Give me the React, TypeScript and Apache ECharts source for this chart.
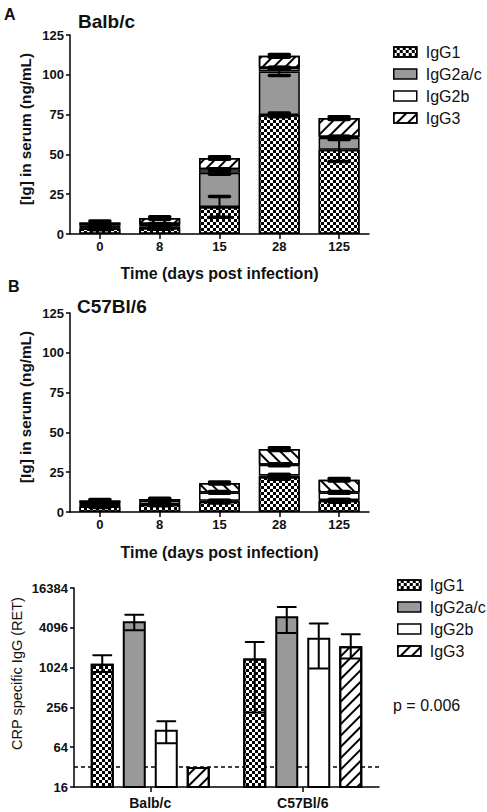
import React, { useEffect, useRef } from 'react';
import * as echarts from 'echarts';

const FONT = '"Liberation Sans", Arial, Helvetica, sans-serif';
const INK = '#111';

// Categories
const days = ['0', '8', '15', '28', '125'];
const isotypes = ['IgG1', 'IgG2a/c', 'IgG2b', 'IgG3'];
const strains = ['Balb/c', 'C57Bl/6'];

// Panel A – Balb/c, stacked means (ng/mL)
const balbIgG1 = [3.5, 3.8, 17.0, 74.8, 52.9];
const balbIgG2a = [0.5, 1.0, 21.5, 27.3, 7.5];
const balbIgG2b = [1.5, 1.5, 2.2, 2.1, 0.5];
const balbIgG3 = [1.8, 3.7, 7.0, 7.7, 11.9];
// Panel A – SEM
const balbErrIgG1 = [0.8, 0.8, 6.5, 1.2, 7.4];
const balbErrIgG2a = [0.5, 0.5, 1.0, 2.5, 1.0];
const balbErrIgG2b = [0.3, 0.3, 0.3, 0.5, 0.3];
const balbErrIgG3 = [0.8, 0.8, 0.8, 0.8, 0.8];

// Panel B – C57Bl/6, stacked means (ng/mL)
const c57IgG1 = [3.5, 4.5, 6.5, 22.0, 7.0];
const c57IgG2a = [0.3, 0.3, 0.5, 1.0, 0.5];
const c57IgG2b = [1.8, 2.2, 5.3, 6.7, 4.8];
const c57IgG3 = [1.7, 1.2, 5.9, 9.8, 8.0];
// Panel B – SEM
const c57ErrIgG1 = [0.6, 0.5, 0.8, 1.5, 0.8];
const c57ErrIgG2a = [0.3, 0.3, 0.4, 0.6, 0.4];
const c57ErrIgG2b = [0.4, 0.4, 0.5, 0.6, 0.5];
const c57ErrIgG3 = [0.6, 0.5, 0.6, 0.8, 0.8];

// Panel C – CRP specific IgG (RET), per strain
const crpIgG1 = [1170, 1400];
const crpIgG1Lo = [880, 214];
const crpIgG1Hi = [1570, 2500];
const crpIgG2a = [5140, 6130];
const crpIgG2aLo = [3750, 3420];
const crpIgG2aHi = [6470, 8480];
const crpIgG2b = [118, 2900];
const crpIgG2bLo = [73.5, 990];
const crpIgG2bHi = [158, 4740];
const crpIgG3 = [32, 2150];
const crpIgG3Lo = [null, 1400];
const crpIgG3Hi = [null, 3270];
const detectionLimit = 32;
const pValueText = 'p = 0.006';

const checker = {
  symbol: 'rect', symbolSize: 1, color: '#000', backgroundColor: '#fff',
  dashArrayX: [[3, 3], [0, 3, 3, 0]], dashArrayY: [3, 0], rotation: 0,
};
const hatchUp = {
  symbol: 'rect', symbolSize: 1, color: '#000', backgroundColor: '#fff',
  dashArrayX: [1, 0], dashArrayY: [2, 5.5], rotation: -Math.PI / 4,
};
const hatchDown = { ...hatchUp, rotation: Math.PI / 4 };

function stackedErrors(layers: number[][], errs: number[][]) {
  const out: number[][] = [];
  const cum = layers[0].map(() => 0);
  layers.forEach((layer, li) => {
    layer.forEach((v, i) => {
      cum[i] += v;
      out.push([i, cum[i] - errs[li][i], cum[i] + errs[li][i]]);
    });
  });
  return out;
}

export default function App() {
  const ref = useRef<HTMLDivElement>(null);
  useEffect(() => {
    if (!ref.current) return;
    const chart = echarts.init(ref.current, null, { renderer: 'svg' });

    const axisLine = { show: true, lineStyle: { color: '#000', width: 1.5 } };
    const tickStyle = { color: '#000', width: 1.5 };
    const labelBold = (size: number, margin: number) => ({
      fontFamily: FONT, fontWeight: 'bold', fontSize: size, color: INK, margin,
    });

    const stackBar = (name: string, data: number[], axis: number, stack: string, style: any) => ({
      name, type: 'bar', stack, xAxisIndex: axis, yAxisIndex: axis, data,
      barWidth: 41,
      itemStyle: { borderColor: '#000', borderWidth: 1.5, ...style },
    });

    const errSeries = (axis: number, data: number[][], capW: number, capLW: number, lw: number, offsets?: number[]) => ({
      type: 'custom', xAxisIndex: axis, yAxisIndex: axis, z: 10, silent: true,
      data,
      encode: { x: 0, y: [1, 2] },
      renderItem: (params: any, api: any) => {
        const ci = api.value(0);
        const lo = api.value(1);
        const hi = api.value(2);
        const si = api.value(3);
        const pLo = api.coord([ci, lo]);
        const pHi = api.coord([ci, hi]);
        const cx = pLo[0] + (offsets ? offsets[si] : 0);
        const hw = capW / 2;
        const st = { stroke: '#000', lineWidth: lw };
        const cs = { stroke: '#000', lineWidth: capLW, lineCap: 'round' };
        return {
          type: 'group',
          children: [
            { type: 'line', shape: { x1: cx, y1: pLo[1], x2: cx, y2: pHi[1] }, style: st },
            { type: 'line', shape: { x1: cx - hw, y1: pHi[1], x2: cx + hw, y2: pHi[1] }, style: cs },
            { type: 'line', shape: { x1: cx - hw, y1: pLo[1], x2: cx + hw, y2: pLo[1] }, style: cs },
          ],
        };
      },
    });

    const errA = stackedErrors([balbIgG1, balbIgG2a, balbIgG2b, balbIgG3], [balbErrIgG1, balbErrIgG2a, balbErrIgG2b, balbErrIgG3]);
    const errB = stackedErrors([c57IgG1, c57IgG2a, c57IgG2b, c57IgG3], [c57ErrIgG1, c57ErrIgG2a, c57ErrIgG2b, c57ErrIgG3]);

    const crpLo = [crpIgG1Lo, crpIgG2aLo, crpIgG2bLo, crpIgG3Lo];
    const crpHi = [crpIgG1Hi, crpIgG2aHi, crpIgG2bHi, crpIgG3Hi];
    const errC: number[][] = [];
    crpLo.forEach((los, si) => {
      los.forEach((lo, ci) => {
        const hi = crpHi[si][ci];
        if (lo != null && hi != null) errC.push([ci, lo, hi, si]);
      });
    });
    const barWC = 23;
    const gapC = 9;
    const stepC = barWC + gapC;
    const offsetsC = [0, 1, 2, 3].map((i) => (i - 1.5) * stepC);

    const xCat = (grid: number, data: string[], extra: any) => ({
      gridIndex: grid, type: 'category', data,
      axisLine, axisTick: { show: true, alignWithLabel: true, length: 5, lineStyle: tickStyle },
      splitLine: { show: false },
      ...extra,
    });

    const yVal = (grid: number) => ({
      gridIndex: grid, type: 'value', min: 0, max: 125, interval: 25,
      axisLine, axisTick: { show: true, length: 4, lineStyle: tickStyle },
      splitLine: { show: false },
      axisLabel: labelBold(13, 6),
    });

    const legendBase = {
      orient: 'vertical', icon: 'rect', itemWidth: 23, itemHeight: 10, itemGap: 6,
      selectedMode: false,
      itemStyle: { borderColor: '#000', borderWidth: 1.5 },
      textStyle: { fontFamily: FONT, fontSize: 16, color: INK, padding: [0, 0, 0, 4] },
      data: isotypes,
    };

    const option: any = {
      animation: false,
      backgroundColor: '#fff',
      grid: [
        { left: 70, top: 35, width: 299, height: 199 },
        { left: 70, top: 313, width: 299, height: 199 },
        { left: 74, top: 588, width: 305, height: 199 },
      ],
      legend: [
        { ...legendBase, left: 388, top: 39 },
        { ...legendBase, left: 392, top: 572 },
      ],
      xAxis: [
        xCat(0, days, {
          axisLabel: labelBold(13, 6),
          name: 'Time (days post infection)', nameLocation: 'middle', nameGap: 31,
          nameTextStyle: { fontFamily: FONT, fontWeight: 'bold', fontSize: 16, color: INK },
        }),
        xCat(1, days, {
          axisLabel: labelBold(13, 6),
          name: 'Time (days post infection)', nameLocation: 'middle', nameGap: 32,
          nameTextStyle: { fontFamily: FONT, fontWeight: 'bold', fontSize: 16, color: INK },
        }),
        xCat(2, strains, { axisLabel: labelBold(14, 9) }),
      ],
      yAxis: [
        yVal(0),
        yVal(1),
        {
          gridIndex: 2, type: 'log', logBase: 2, min: 16, max: 16384, interval: 2,
          axisLine, axisTick: { show: true, length: 4, lineStyle: tickStyle },
          splitLine: { show: false },
          axisLabel: { ...labelBold(13, 6), formatter: (v: number) => String(Math.round(v)) },
        },
      ],
      series: [
        stackBar('IgG1', balbIgG1, 0, 'A', { color: '#fff', decal: checker }),
        stackBar('IgG2a/c', balbIgG2a, 0, 'A', { color: '#999' }),
        stackBar('IgG2b', balbIgG2b, 0, 'A', { color: '#fff' }),
        stackBar('IgG3', balbIgG3, 0, 'A', { color: '#fff', decal: hatchUp }),
        errSeries(0, errA, 20, 3.5, 2),

        stackBar('IgG1', c57IgG1, 1, 'B', { color: '#fff', decal: checker }),
        stackBar('IgG2a/c', c57IgG2a, 1, 'B', { color: '#999' }),
        stackBar('IgG2b', c57IgG2b, 1, 'B', { color: '#fff' }),
        stackBar('IgG3', c57IgG3, 1, 'B', { color: '#fff', decal: hatchDown }),
        errSeries(1, errB, 20, 3.5, 2),

        {
          name: 'IgG1', type: 'bar', xAxisIndex: 2, yAxisIndex: 2, data: crpIgG1,
          barWidth: barWC, barGap: (gapC / barWC * 100) + '%', clip: true,
          itemStyle: { color: '#fff', decal: checker, borderColor: '#000', borderWidth: 2 },
          markLine: {
            silent: true, symbol: 'none', z: 1,
            label: { show: false },
            lineStyle: { color: '#000', width: 1.5, type: [4, 3] },
            data: [{ yAxis: detectionLimit }],
          },
        },
        {
          name: 'IgG2a/c', type: 'bar', xAxisIndex: 2, yAxisIndex: 2, data: crpIgG2a,
          barWidth: barWC, barGap: (gapC / barWC * 100) + '%', clip: true,
          itemStyle: { color: '#999', borderColor: '#000', borderWidth: 2 },
        },
        {
          name: 'IgG2b', type: 'bar', xAxisIndex: 2, yAxisIndex: 2, data: crpIgG2b,
          barWidth: barWC, barGap: (gapC / barWC * 100) + '%', clip: true,
          itemStyle: { color: '#fff', borderColor: '#000', borderWidth: 2 },
        },
        {
          name: 'IgG3', type: 'bar', xAxisIndex: 2, yAxisIndex: 2, data: crpIgG3,
          barWidth: barWC, barGap: (gapC / barWC * 100) + '%', clip: true,
          itemStyle: { color: '#fff', decal: hatchUp, borderColor: '#000', borderWidth: 2 },
        },
        errSeries(2, errC, 18, 2, 2, offsetsC),
      ],
      graphic: [
        { type: 'text', left: 4, top: 6, style: { text: 'A', font: `bold 16px ${FONT}`, fill: INK } },
        { type: 'text', left: 8, top: 278, style: { text: 'B', font: `bold 16px ${FONT}`, fill: INK } },
        { type: 'text', x: 78, y: 21.5, style: { text: 'Balb/c', font: `bold 19px ${FONT}`, fill: INK, align: 'left', verticalAlign: 'middle' } },
        { type: 'text', x: 77, y: 306, style: { text: 'C57Bl/6', font: `bold 19px ${FONT}`, fill: INK, align: 'left', verticalAlign: 'middle' } },
        { type: 'text', x: 25, y: 129, rotation: Math.PI / 2, style: { text: '[Ig] in serum (ng/mL)', font: `bold 15.3px ${FONT}`, fill: INK, align: 'center', verticalAlign: 'middle' } },
        { type: 'text', x: 25, y: 407, rotation: Math.PI / 2, style: { text: '[Ig] in serum (ng/mL)', font: `bold 15.3px ${FONT}`, fill: INK, align: 'center', verticalAlign: 'middle' } },
        { type: 'text', x: 17, y: 673.5, rotation: Math.PI / 2, style: { text: 'CRP specific IgG (RET)', font: `14.5px ${FONT}`, fill: INK, align: 'center', verticalAlign: 'middle' } },
        { type: 'text', x: 393, y: 705, style: { text: pValueText, font: `16px ${FONT}`, fill: INK, align: 'left', verticalAlign: 'middle' } },
      ],
    };

    chart.setOption(option);
    return () => chart.dispose();
  }, []);

  return <div ref={ref} style={{ position: 'fixed', left: 0, top: 0, width: 487, height: 812 }} />;
}
